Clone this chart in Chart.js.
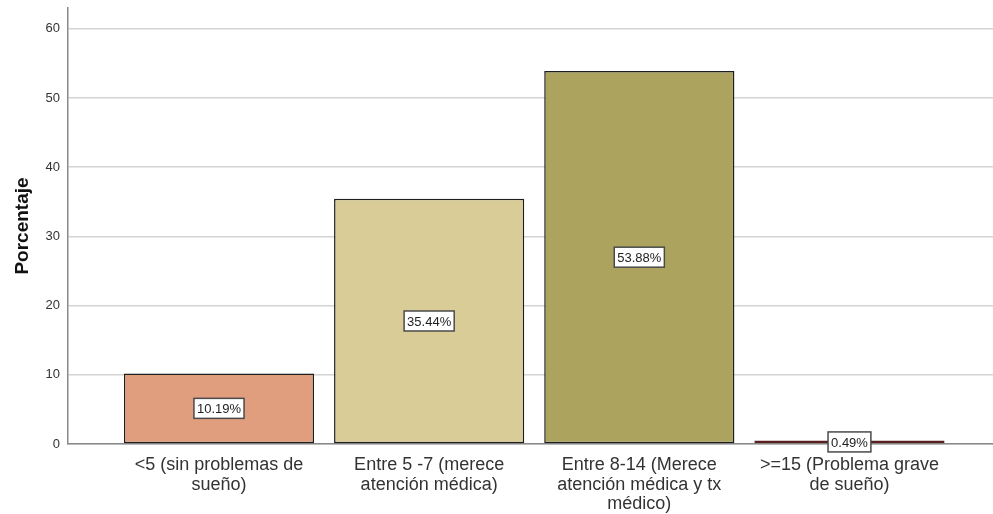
<!DOCTYPE html>
<html>
<head>
<meta charset="utf-8">
<script src="https://cdn.jsdelivr.net/npm/chart.js@4"></script>
<style>
html,body{margin:0;padding:0;background:#fff;}
#wrap{width:993px;height:514px;position:relative;}
</style>
</head>
<body>
<div id="wrap"><canvas id="c" width="993" height="514"></canvas></div>
<script>
const categories = [
  ["<5 (sin problemas de", "sueño)"],
  ["Entre 5 -7 (merece", "atención médica)"],
  ["Entre 8-14 (Merece", "atención médica y tx", "médico)"],
  [">=15 (Problema grave", "de sueño)"]
];
const values = [10.19, 35.44, 53.88, 0.49];
const valueLabels = ["10.19%", "35.44%", "53.88%", "0.49%"];
const barColors = ["#e19e7e", "#dacc97", "#aca45e", "#a03c3c"];
const yTicks = [0, 10, 20, 30, 40, 50, 60];

const labelPlugin = {
  id: 'boxLabels',
  afterDatasetsDraw(chart) {
    const ctx = chart.ctx;
    const meta = chart.getDatasetMeta(0);
    ctx.save();
    ctx.font = '13px "Liberation Sans", Arial, sans-serif';
    ctx.textAlign = 'center';
    ctx.textBaseline = 'middle';
    meta.data.forEach((el, i) => {
      const txt = valueLabels[i];
      const cx = el.x;
      const cy = (el.y + el.base) / 2;
      const w = ctx.measureText(txt).width + 6;
      const h = 20;
      ctx.fillStyle = '#ffffff';
      ctx.fillRect(cx - w / 2, cy - h / 2, w, h);
      ctx.strokeStyle = '#4a4a4a';
      ctx.lineWidth = 1.5;
      ctx.strokeRect(cx - w / 2, cy - h / 2, w, h);
      ctx.fillStyle = '#222';
      ctx.fillText(txt, cx, cy + 1);
    });
    ctx.restore();
  }
};

new Chart(document.getElementById('c'), {
  type: 'bar',
  data: {
    datasets: [{
      data: values.map((v, i) => ({x: i, y: v})),
      backgroundColor: barColors,
      borderColor: ['#1e1e1e', '#1e1e1e', '#1e1e1e', '#5a2020'],
      borderWidth: 1.5,
      borderSkipped: false,
      barPercentage: 0.905,
      categoryPercentage: 1.0
    }]
  },
  options: {
    responsive: false,
    animation: false,
    devicePixelRatio: 1,
    layout: {padding: {top: 8, right: 0, left: 0, bottom: 0}},
    plugins: {legend: {display: false}, tooltip: {enabled: false}},
    scales: {
      x: {
        type: 'linear',
        offset: false,
        min: -0.7185,
        max: 3.683,
        afterBuildTicks(scale) { scale.ticks = categories.map((c, i) => ({value: i})); },
        afterFit(scale) { scale.height = 70; scale.paddingLeft = 0; scale.paddingRight = 0; },
        grid: {display: false, drawTicks: false},
        border: {display: true, color: '#8a8a8a', width: 1.5},
        ticks: {
          autoSkip: false,
          maxRotation: 0,
          padding: 11,
          color: '#333',
          font: {family: '"Liberation Sans", Arial, sans-serif', size: 18, lineHeight: 1.1},
          callback: (v) => categories[v]
        }
      },
      y: {
        min: 0,
        max: 63,
        afterBuildTicks(scale) { scale.ticks = yTicks.map(v => ({value: v})); },
        afterFit(scale) { scale.width = 68; scale.paddingTop = 0; scale.paddingBottom = 0; },
        grid: {color: '#d4d4d4', lineWidth: 1.5, drawTicks: false},
        border: {display: true, color: '#8a8a8a', width: 1.5},
        ticks: {
          padding: 8,
          color: '#333',
          font: {family: '"Liberation Sans", Arial, sans-serif', size: 13}
        },
        title: {
          display: true,
          text: 'Porcentaje',
          color: '#111',
          padding: {top: 11, bottom: 0},
          font: {family: '"Liberation Sans", Arial, sans-serif', size: 19, weight: 'bold'}
        }
      }
    }
  },
  plugins: [labelPlugin]
});
</script>
</body>
</html>
